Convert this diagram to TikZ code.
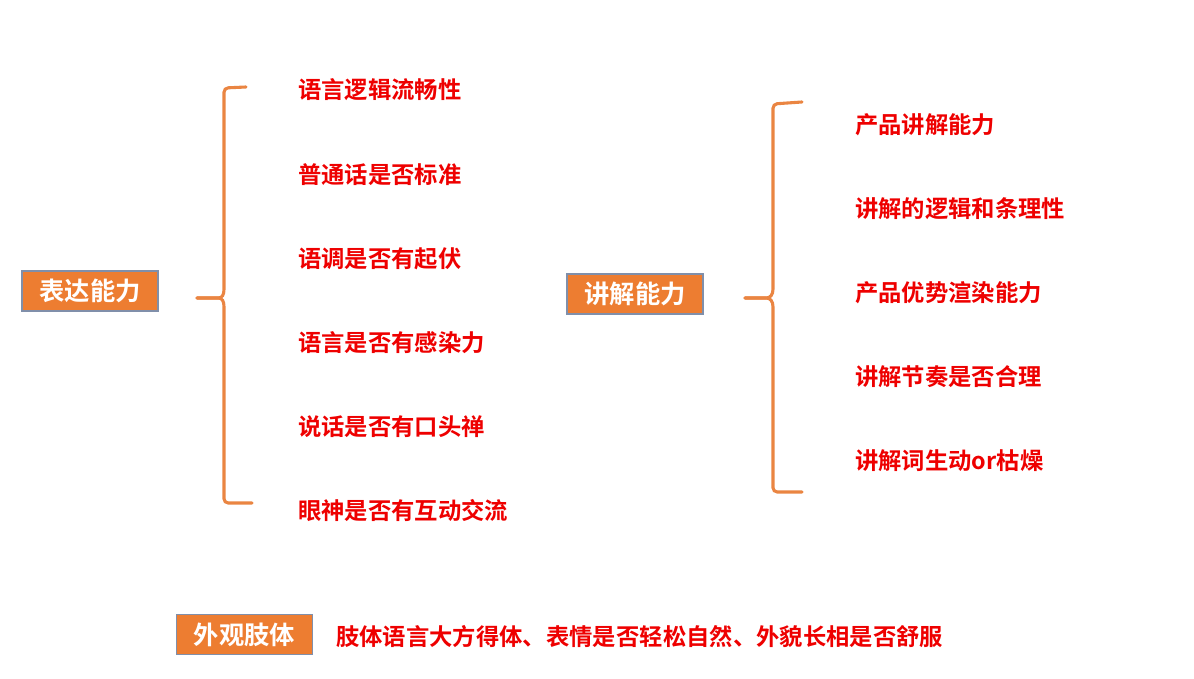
\documentclass[tikz,border=0pt]{standalone}
\usepackage{fontspec}
\setmainfont{Noto Sans CJK SC}[BoldFont={* Bold}]
\usepackage{xcolor}
\usetikzlibrary{arrows,shapes,calc,positioning}
\definecolor{boxorange}{RGB}{237,125,49}
\definecolor{boxedge}{RGB}{128,143,170}
\definecolor{braceorange}{RGB}{234,133,66}
\definecolor{itemred}{RGB}{238,0,0}

\begin{document}
\begin{tikzpicture}[scale = 1]
		\tikzstyle{every node}=[font=\bfseries\fontsize{16.6}{20}\selectfont]
		\tikzstyle{headbox}=[fill=boxorange, draw=boxedge, line width=0.8pt, text=white, minimum width=3.4cm, minimum height=1cm, inner sep=0pt, font=\bfseries\fontsize{18}{22}\selectfont]
		\tikzstyle{item}=[text=itemred, anchor=west, inner sep=0pt]
		\tikzstyle{brace}=[line width=2.2pt, draw=braceorange, line cap=round, rounded corners=3pt]
		\useasboundingbox (0,0) rectangle (29.85,16.975);
		% left group
		\node [headbox] (biaoda) at (2.25,9.7) {表达能力};
		\draw [brace] (4.925,9.525) -- (5.35,9.525) .. controls (5.55,9.525) and (5.6,9.6) .. (5.6,9.85) -- (5.6,14.775) -- (6.15,14.8);
		\draw [brace] (4.925,9.525) -- (5.35,9.525) .. controls (5.55,9.525) and (5.6,9.45) .. (5.6,9.2) -- (5.6,4.4) -- (6.3,4.4);
		\node [item] (yuyan) at (7.45,14.725) {语言逻辑流畅性};
		\node [item] (putong) at (7.45,12.6) {普通话是否标准};
		\node [item] (yudiao) at (7.45,10.5) {语调是否有起伏};
		\node [item] (ganran) at (7.45,8.4) {语言是否有感染力};
		\node [item] (koutou) at (7.45,6.3) {说话是否有口头禅};
		\node [item] (yanshen) at (7.45,4.2) {眼神是否有互动交流};
		% right group
		\node [headbox] (jiangjie) at (15.875,9.625) {讲解能力};
		\draw [brace] (18.625,9.525) -- (19.05,9.525) .. controls (19.25,9.525) and (19.325,9.6) .. (19.325,9.85) -- (19.325,14.375) -- (20.05,14.425);
		\draw [brace] (18.625,9.525) -- (19.05,9.525) .. controls (19.25,9.525) and (19.325,9.45) .. (19.325,9.2) -- (19.325,4.675) -- (20.05,4.675);
		\node [item] (chanpin) at (21.375,13.85) {产品讲解能力};
		\node [item] (luoji) at (21.375,11.75) {讲解的逻辑和条理性};
		\node [item] (youshi) at (21.375,9.65) {产品优势渲染能力};
		\node [item] (jiezou) at (21.375,7.55) {讲解节奏是否合理};
		\node [item] (shengdong) at (21.375,5.45) {讲解词生动or枯燥};
		% bottom
		\node [headbox] (waiguan) at (6.1125,1.1125) {外观肢体};
		\node [item] (zhiti) at (8.4,1.05) {肢体语言大方得体、表情是否轻松自然、外貌长相是否舒服};
	\end{tikzpicture}
\end{document}
